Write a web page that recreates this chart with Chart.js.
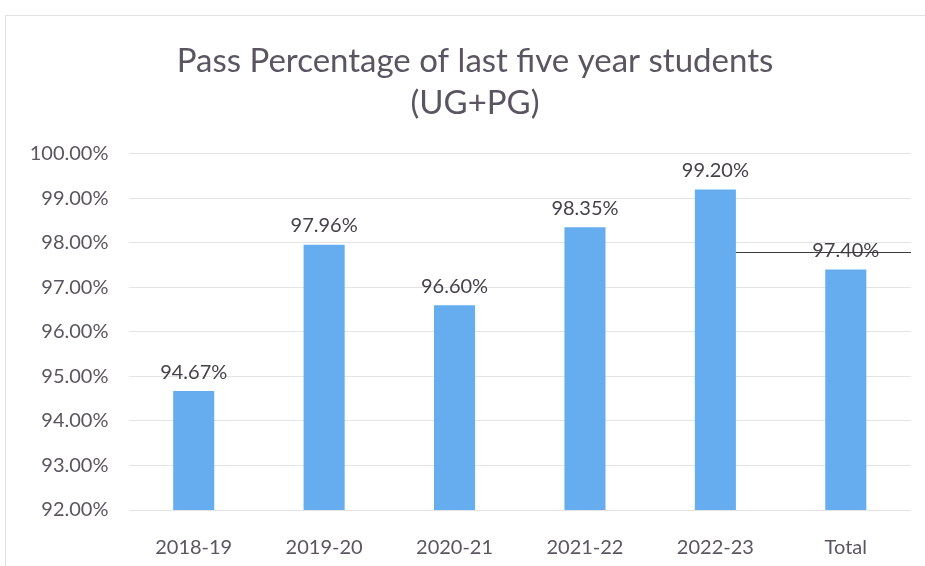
<!DOCTYPE html>
<html>
<head>
<meta charset="utf-8">
<script src="https://cdn.jsdelivr.net/npm/chart.js@4"></script>
<style>
html,body{margin:0;padding:0;background:#fff;}
#wrap{width:925px;height:566px;position:relative;}
</style>
</head>
<body>
<div id="wrap"><canvas id="c" width="925" height="566"></canvas></div>
<script>
const categories = ['2018-19', '2019-20', '2020-21', '2021-22', '2022-23', 'Total'];
const passPercent = [94.67, 97.96, 96.60, 98.35, 99.20, 97.40];
const titleLines = ['Pass Percentage of last five year students', '(UG+PG)'];
const yMin = 92, yMax = 100, yStep = 1;
const refLineValue = 97.8;
const refLineFromIndex = 4;

const FONT = 'Lato, "Open Sans", sans-serif';
const TEXT = '#5a5560';

const frame = {
  id: 'frame',
  beforeDraw(chart) {
    const ctx = chart.ctx;
    ctx.save();
    ctx.fillStyle = '#fff';
    ctx.fillRect(0, 0, chart.width, chart.height);
    ctx.strokeStyle = '#e2e2e2';
    ctx.lineWidth = 1;
    ctx.strokeRect(5.5, 15.5, 1200, 1200);
    ctx.restore();
  }
};

// centre the title over the plot area rather than the whole canvas
const titleShift = {
  id: 'titleShift',
  afterLayout(chart) {
    const t = chart.titleBlock;
    if (t) { t.left += 14.5; t.right += 14.5; }
  }
};

const labels = {
  id: 'labels',
  afterDatasetsDraw(chart) {
    const ctx = chart.ctx;
    const meta = chart.getDatasetMeta(0);
    ctx.save();
    ctx.font = '20px ' + FONT;
    ctx.fillStyle = '#45414b';
    ctx.textAlign = 'center';
    ctx.textBaseline = 'bottom';
    meta.data.forEach((bar, i) => {
      const v = chart.data.datasets[0].data[i];
      ctx.fillText(v.toFixed(2) + '%', bar.x, bar.y - 9);
    });
    const y = Math.round(chart.scales.y.getPixelForValue(refLineValue)) + 0.5;
    const b = meta.data[refLineFromIndex];
    ctx.strokeStyle = '#3c3c3c';
    ctx.lineWidth = 1;
    ctx.beginPath();
    ctx.moveTo(b.x + b.width / 2, y);
    ctx.lineTo(chart.chartArea.right, y);
    ctx.stroke();
    ctx.restore();
  }
};

new Chart(document.getElementById('c'), {
  type: 'bar',
  data: {
    labels: categories,
    datasets: [{
      data: passPercent,
      backgroundColor: '#66adf0',
      borderWidth: 0,
      categoryPercentage: 1,
      barPercentage: 0.315
    }]
  },
  options: {
    responsive: false,
    animation: false,
    layout: { padding: { left: 10, right: 14, top: 15, bottom: 0 } },
    plugins: {
      legend: { display: false },
      tooltip: { enabled: false },
      title: {
        display: true,
        text: titleLines,
        color: TEXT,
        font: { family: FONT, size: 33, weight: 'normal', lineHeight: 1.27 },
        padding: { top: 25, bottom: 30 }
      }
    },
    scales: {
      y: {
        min: yMin, max: yMax,
        ticks: {
          stepSize: yStep,
          color: TEXT,
          font: { family: FONT, size: 20 },
          padding: 20,
          callback: v => v.toFixed(2) + '%'
        },
        grid: { color: '#e4e4e4', drawTicks: false },
        border: { display: false },
        afterFit(scale) { scale.width = 118.5; }
      },
      x: {
        ticks: {
          color: TEXT,
          font: { family: FONT, size: 20 },
          padding: 26
        },
        grid: { display: false, drawTicks: false },
        border: { display: false },
        afterFit(scale) { scale.height = 56; }
      }
    }
  },
  plugins: [frame, titleShift, labels]
});
</script>
</body>
</html>
